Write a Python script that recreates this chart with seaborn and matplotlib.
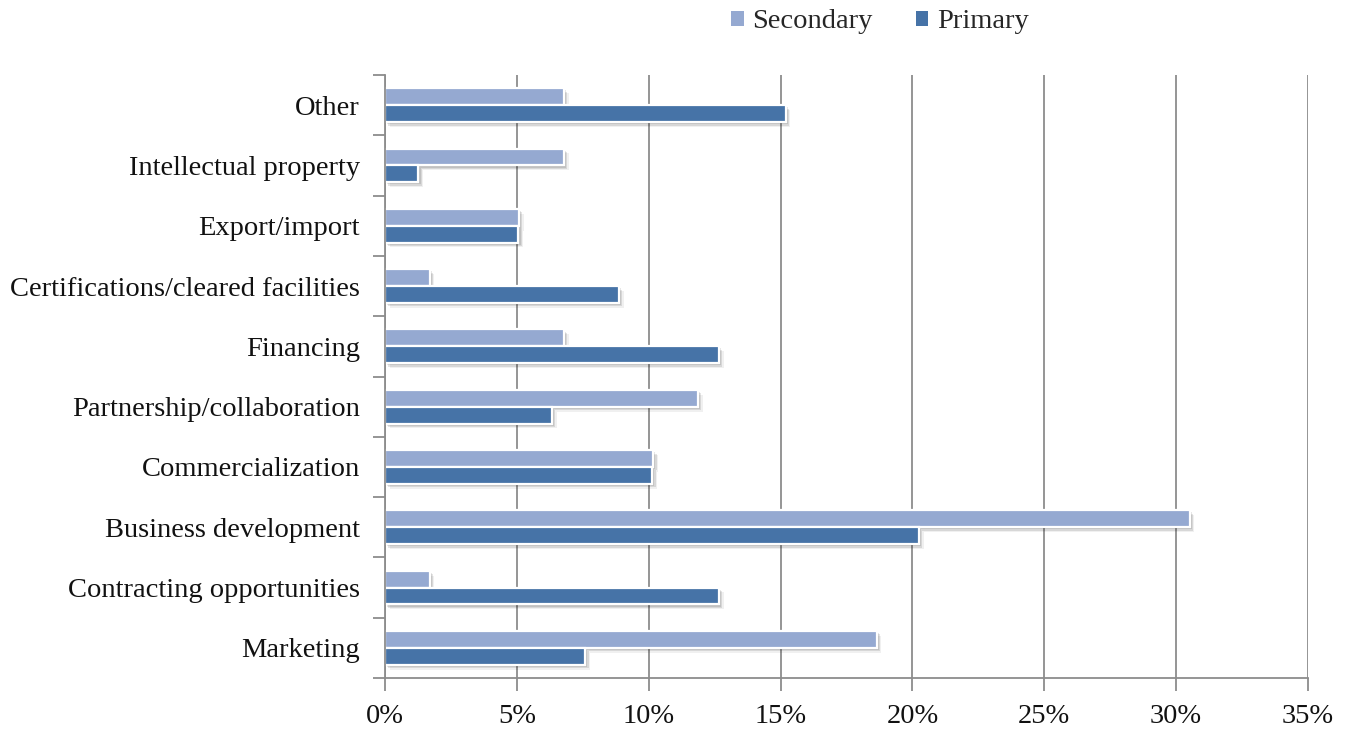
import matplotlib
matplotlib.use("Agg")
import matplotlib.pyplot as plt
import matplotlib.patheffects as pe
from matplotlib.ticker import FixedLocator, FuncFormatter
import seaborn as sns
import pandas as pd

categories = [
    "Other",
    "Intellectual property",
    "Export/import",
    "Certifications/cleared facilities",
    "Financing",
    "Partnership/collaboration",
    "Commercialization",
    "Business development",
    "Contracting opportunities",
    "Marketing",
]
secondary = [6.78, 6.78, 5.08, 1.69, 6.78, 11.86, 10.17, 30.51, 1.69, 18.64]
primary = [15.19, 1.27, 5.06, 8.86, 12.66, 6.33, 10.13, 20.25, 12.66, 7.59]
series_names = ["Secondary", "Primary"]
series_colors = ["#95A9D1", "#4673A7"]

df = pd.DataFrame({
    "category": categories * 2,
    "value": secondary + primary,
    "series": [series_names[0]] * len(categories) + [series_names[1]] * len(categories),
})

sns.set_theme(style="white")
plt.rcParams["font.family"] = ["Liberation Serif", "DejaVu Serif"]

fig = plt.figure(figsize=(13.5, 7.29), dpi=100)
ax = fig.add_axes([385 / 1350, 1 - 678 / 729, (1308 - 385) / 1350, (678 - 75) / 729])

sns.barplot(
    data=df, y="category", x="value", hue="series",
    order=categories, hue_order=series_names,
    palette=series_colors, orient="h", width=0.56, gap=0,
    edgecolor="white", linewidth=1.6, saturation=1, ax=ax, legend=True,
)

# soft drop shadow built from a few stacked, faint offsets
shadow = [
    pe.SimplePatchShadow(offset=(1.5, -1.5), shadow_rgbFace="#000000", alpha=0.10),
    pe.SimplePatchShadow(offset=(2.5, -2.5), shadow_rgbFace="#000000", alpha=0.10),
    pe.SimplePatchShadow(offset=(3.5, -3.5), shadow_rgbFace="#000000", alpha=0.06),
    pe.Normal(),
]
for patch in ax.patches:
    patch.set_path_effects(shadow)

grid_col = "#8C8C8C"
text_col = "#111111"
ax.set_xlim(0, 35)
ax.set_ylim(len(categories) - 0.5, -0.5)
ax.xaxis.set_major_locator(FixedLocator(range(0, 36, 5)))
ax.xaxis.set_major_formatter(FuncFormatter(lambda v, p: f"{v:.0f}%"))
ax.grid(axis="x", color=grid_col, linewidth=1.3)
ax.set_axisbelow(True)

ax.yaxis.set_minor_locator(FixedLocator([i - 0.5 for i in range(len(categories) + 1)]))
ax.tick_params(axis="y", which="major", length=0, pad=18, labelsize=20.5, labelcolor=text_col)
ax.tick_params(axis="y", which="minor", length=9, width=1.3, color=grid_col, direction="out", left=True)
ax.tick_params(axis="x", which="major", length=9, width=1.3, color=grid_col, direction="out",
               bottom=True, pad=10, labelsize=20.5, labelcolor=text_col)

for side in ["top", "right"]:
    ax.spines[side].set_visible(False)
for side in ["left", "bottom"]:
    ax.spines[side].set_color(grid_col)
    ax.spines[side].set_linewidth(1.3)

ax.set_xlabel("")
ax.set_ylabel("")

handles, labels = ax.get_legend_handles_labels()
ax.legend(handles, labels, loc="center", bbox_to_anchor=(880 / 1350, 1 - 22 / 729),
          bbox_transform=fig.transFigure, ncol=2, frameon=False, fontsize=20.5,
          handlelength=0.45, handleheight=0.45, handletextpad=0.3, columnspacing=1.5)
for h in ax.get_legend().legend_handles:
    h.set_edgecolor("none")
    h.set_path_effects([])

fig.savefig("out.png", dpi=100)
